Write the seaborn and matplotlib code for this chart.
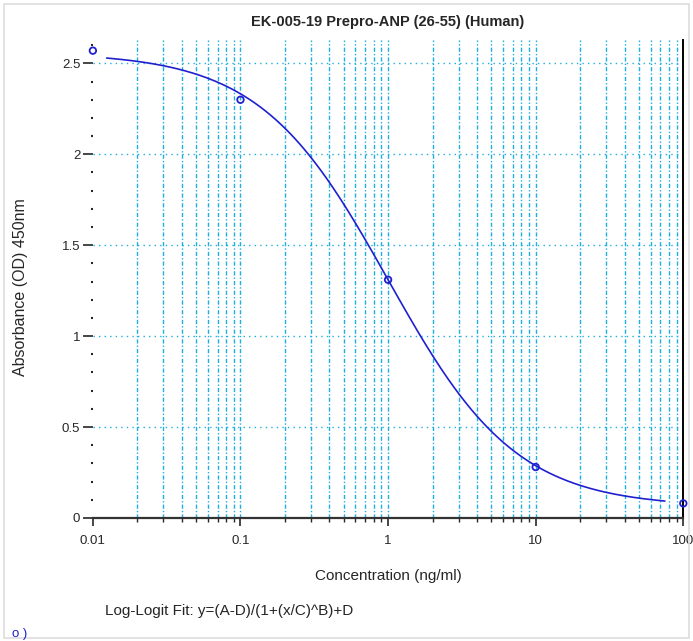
import matplotlib
matplotlib.use("Agg")
import matplotlib.pyplot as plt
import matplotlib.ticker as mticker
import numpy as np
import pandas as pd
import seaborn as sns

# standard points
conc = [0.01, 0.1, 1, 10, 100]
od = [2.57, 2.30, 1.31, 0.28, 0.08]

# log-logit fit parameters (estimated from the drawn curve)
fit_A = 2.56
fit_B = 1.0
fit_C = 1.0
fit_D = 0.06
fit_x_min = 0.0124
fit_x_max = 75

title = "EK-005-19 Prepro-ANP (26-55) (Human)"
fit_text = "Log-Logit Fit: y=(A-D)/(1+(x/C)^B)+D"

grid_col = "#1eaee0"
line_col = "#2020d0"

sns.set_style("white")
plt.rcParams["font.family"] = ["Liberation Sans", "DejaVu Sans"]

fig = plt.figure(figsize=(6.93, 6.41), dpi=100)
ax = fig.add_axes([0.134, 0.192, 0.852, 0.746])

# fitted curve
xs = np.logspace(np.log10(fit_x_min), np.log10(fit_x_max), 300)
curve = pd.DataFrame({"x": xs, "y": fit_D + (fit_A - fit_D) / (1 + (xs / fit_C) ** fit_B)})
sns.lineplot(data=curve, x="x", y="y", ax=ax, color=line_col, lw=1.2, zorder=3)

pts = pd.DataFrame({"conc": conc, "od": od})
sns.scatterplot(data=pts, x="conc", y="od", ax=ax, marker="o", s=22,
                facecolor="none", edgecolor=line_col, linewidth=1.3, zorder=4,
                clip_on=False)

ax.set_xscale("log")
ax.set_xlim(0.01, 100)
ax.set_ylim(0, 2.63)

# grid: vertical dash-dot at every log position, horizontal dotted at 0.5 steps
for dec in [0.01, 0.1, 1, 10]:
    for m in range(1, 10):
        v = dec * m
        if v <= 0.01:
            continue
        ax.axvline(v, color=grid_col, lw=1.0, ls=(0, (3, 1.5, 1, 1.5)), zorder=1)
for h in [0.5, 1, 1.5, 2, 2.5]:
    ax.axhline(h, color=grid_col, lw=1.0, ls=(0, (1, 3)), zorder=1)

ax.xaxis.set_major_locator(mticker.LogLocator(base=10, numticks=10))
ax.xaxis.set_minor_locator(mticker.LogLocator(base=10, subs=np.arange(2, 10), numticks=10))
ax.xaxis.set_major_formatter(mticker.FuncFormatter(lambda v, p: f"{v:g}"))
ax.xaxis.set_minor_formatter(mticker.NullFormatter())
ax.yaxis.set_major_locator(mticker.MultipleLocator(0.5))
ax.yaxis.set_minor_locator(mticker.MultipleLocator(0.1))
ax.yaxis.set_major_formatter(mticker.FuncFormatter(lambda v, p: f"{v:g}"))

ax.tick_params(axis="x", which="major", direction="out", length=6, width=1.2,
               labelsize=9.5, pad=6, bottom=True)
ax.tick_params(axis="x", which="minor", direction="out", length=3, width=1, bottom=True)
ax.tick_params(axis="y", which="major", direction="out", length=7, width=1.2,
               labelsize=9.5, pad=2, left=True)
ax.tick_params(axis="y", which="minor", direction="out", length=1.5, width=1.5, left=True)

for s in ["top", "left"]:
    ax.spines[s].set_visible(False)
ax.spines["bottom"].set_color("#333333")
ax.spines["bottom"].set_linewidth(1.6)
ax.spines["right"].set_color("black")
ax.spines["right"].set_linewidth(1.4)

ax.set_xlabel("Concentration (ng/ml)", fontsize=11, labelpad=16)
ax.set_ylabel("Absorbance (OD) 450nm", fontsize=11.5)
ax.yaxis.set_label_coords(-0.11, 0.483)
ax.set_title(title, fontsize=10.5, fontweight="bold", pad=10)

fig.text(0.152, 0.047, fit_text, fontsize=11, ha="left", va="center")

# cut-off legend fragment at the bottom edge
fig.text(0.018, 0.001, "o )", fontsize=9.5, color=line_col, ha="left", va="bottom")

# light frame around the figure
fig.patches.append(plt.Rectangle((0.006, 0.004), 0.988, 0.99, transform=fig.transFigure,
                                 fill=False, ec="#dddddd", lw=1.2))

fig.savefig("out.png", dpi=100)
